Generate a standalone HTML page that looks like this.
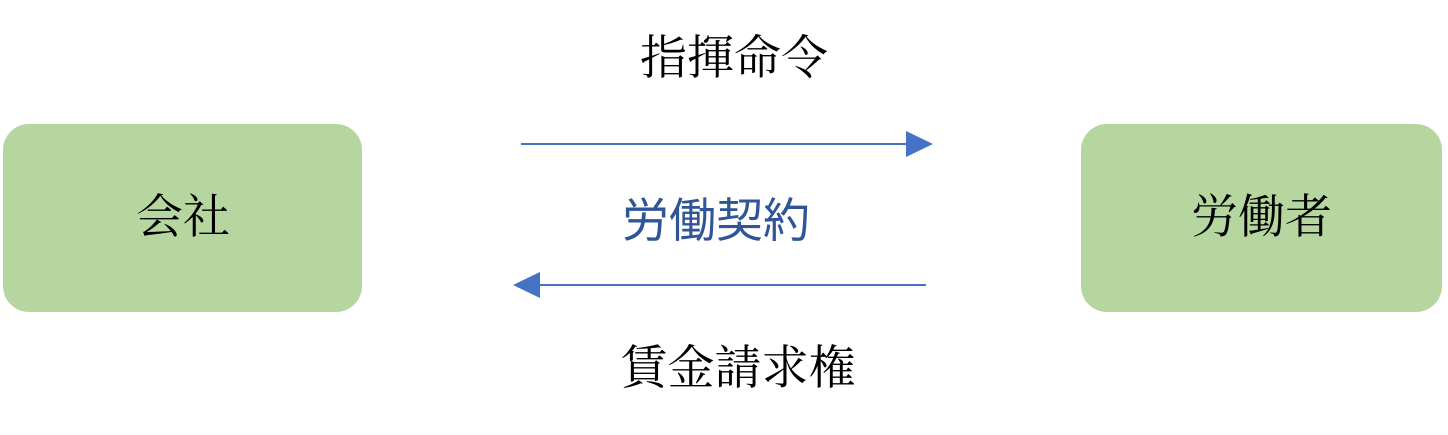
<!DOCTYPE html>
<html><head><meta charset="utf-8"><style>
body{margin:0;width:1448px;height:435px;background:#fff;position:relative;overflow:hidden}
.box{position:absolute;top:124px;height:188px;background:#b6d6a0;border-radius:26px}
.t{position:absolute;font-family:"Liberation Serif","Noto Serif CJK SC",serif;font-size:47px;line-height:47px;white-space:nowrap;color:#000;text-align:center}
</style></head><body>
<div class="box" style="left:3px;width:359px"></div>
<div class="box" style="left:1081px;width:361px"></div>
<div class="t" style="left:0;width:366px;top:195px">会社</div>
<div class="t" style="left:1081px;width:361px;top:195px">労働者</div>
<div class="t" style="left:634px;width:200px;top:36px">指揮命令</div>
<div class="t" style="left:616px;width:200px;top:197px;color:#2f5597;font-family:'Liberation Sans','Noto Sans CJK JP',sans-serif;font-weight:400">労働契約</div>
<div class="t" style="left:618px;width:240px;top:346px">賃金請求権</div>
<svg width="1448" height="435" style="position:absolute;left:0;top:0">
<line x1="521" y1="144" x2="908" y2="144" stroke="#4472c4" stroke-width="2"/>
<polygon points="906,131 933,144 906,157" fill="#4472c4"/>
<line x1="538" y1="285" x2="926" y2="285" stroke="#4472c4" stroke-width="2"/>
<polygon points="540,272 513,285 540,298" fill="#4472c4"/>
</svg>
</body></html>
